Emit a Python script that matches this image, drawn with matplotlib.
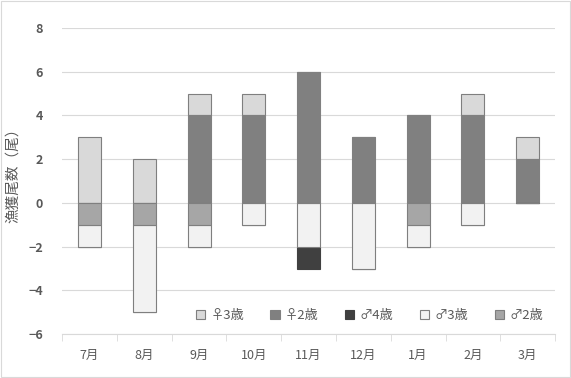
import numpy as np
import matplotlib.pyplot as plt
from matplotlib.patches import Rectangle

plt.rcParams['font.family'] = ['Noto Sans CJK JP', 'DejaVu Sans']

months = ['7月', '8月', '9月', '10月', '11月', '12月', '1月', '2月', '3月']
f3 = [3, 2, 1, 1, 0, 0, 0, 1, 1]     # ♀3歳
f2 = [0, 0, 4, 4, 6, 3, 4, 4, 2]     # ♀2歳
m4 = [0, 0, 0, 0, -1, 0, 0, 0, 0]    # ♂4歳
m3 = [-1, -4, -1, -1, -2, -3, -1, -1, 0]  # ♂3歳
m2 = [-1, -1, -1, 0, 0, 0, -1, 0, 0]      # ♂2歳

edge = '#7f7f7f'
x = np.arange(len(months))
w = 0.42

fig = plt.figure(figsize=(5.71, 3.78), dpi=100)
fig.patches.append(Rectangle((0.002, 0.003), 0.996, 0.994, transform=fig.transFigure,
                             fill=False, edgecolor='#d9d9d9', linewidth=0.8))
ax = fig.add_axes([0.109, 0.116, 0.863, 0.81])

f2a, f3a = np.array(f2), np.array(f3)
m2a, m3a, m4a = np.array(m2), np.array(m3), np.array(m4)

ax.bar(x, f3a, w, bottom=f2a, color='#d9d9d9', edgecolor=edge, linewidth=0.8, label='♀3歳', zorder=3)
ax.bar(x, f2a, w, color='#808080', edgecolor='#808080', linewidth=0.8, label='♀2歳', zorder=3)
ax.bar(x, m4a, w, bottom=m2a + m3a, color='#404040', edgecolor='#404040', linewidth=0.8, label='♂4歳', zorder=3)
ax.bar(x, m3a, w, bottom=m2a, color='#f2f2f2', edgecolor=edge, linewidth=0.8, label='♂3歳', zorder=3)
ax.bar(x, m2a, w, color='#a6a6a6', edgecolor=edge, linewidth=0.8, label='♂2歳', zorder=3)

ax.set_ylim(-6, 8)
ax.set_xlim(-0.5, len(months) - 0.5)
ax.set_yticks(range(-6, 9, 2))
ax.yaxis.grid(True, color='#d9d9d9', linewidth=0.8, zorder=0)
ax.set_axisbelow(True)
for s in ['top', 'right', 'left']:
    ax.spines[s].set_visible(False)
ax.spines['bottom'].set_color('#d9d9d9')
ax.tick_params(axis='y', length=0, labelsize=9, labelcolor='#595959', pad=14)
for t in ax.get_yticklabels():
    t.set_fontweight('bold')
ax.set_xticks(x)
ax.set_xticklabels(months)
ax.tick_params(axis='x', length=0, labelsize=9, labelcolor='#595959', pad=11)
ax.set_xticks(np.arange(-0.5, len(months), 1), minor=True)
ax.tick_params(axis='x', which='minor', length=5, color='#d9d9d9')

ax.set_ylabel('漁獲尾数（尾）', fontsize=10.5, color='#595959', labelpad=6)
ax.yaxis.set_label_coords(-0.085, 0.53)

ax.legend(ncol=5, loc='lower right', bbox_to_anchor=(1.0, 0.0), frameon=False,
          fontsize=9.5, labelcolor='#595959', handlelength=0.7, handleheight=0.7,
          columnspacing=2.0, handletextpad=0.4)

fig.savefig('out.png', dpi=100)
